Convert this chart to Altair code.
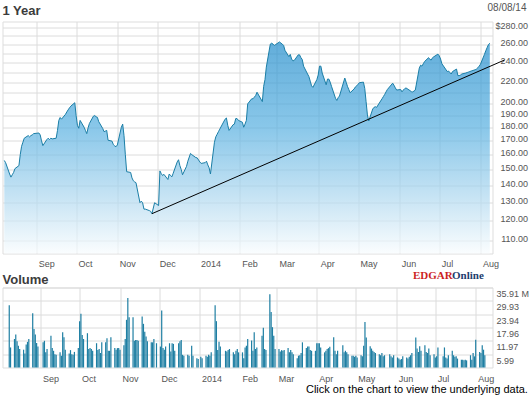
import altair as alt
import pandas as pd

# ---------------- data ----------------
HOLIDAYS = ["2013-09-02", "2013-11-28", "2013-12-25", "2014-01-01", "2014-01-20",
            "2014-02-17", "2014-04-18", "2014-05-26", "2014-07-04"]
TRADE_DATES = [d.strftime("%Y-%m-%d") for d in pd.bdate_range("2013-08-08", "2014-08-08")
               if d.strftime("%Y-%m-%d") not in HOLIDAYS]

PRICE_AUG13 = [156, 154.5, 147, 145, 146.5, 148, 150.5, 152.5, 160, 166, 169, 172, 174, 173, 174, 174.5, 175.5]
PRICE_SEP13 = [176, 174.5, 170, 166.5, 171, 172, 171, 172, 171.5, 172, 178, 186, 188.4, 187, 191, 193, 194.8, 196.5, 198, 201]
PRICE_OCT13 = [190, 182, 179.7, 186, 180.5, 178, 175.5, 180, 183.5, 189.5, 190, 189, 188.5, 185, 179.5, 177,
               177.5, 178, 170.5, 169.8, 167.2, 166.3, 165.7]
PRICE_NOV13 = [167, 180.5, 183, 174, 160, 148.5, 148, 144.5, 142.7, 142, 141.5, 129.6, 130.5, 129.5, 126, 126,
               125.2, 124.8, 123.5, 129.6]
PRICE_DEC13 = [128, 149, 147.3, 146, 146.8, 143.5, 147, 146, 145.2, 147.5, 155, 156.5, 152.5, 150, 146.5, 152,
               155.5, 160.9, 160, 158, 157.8]
PRICE_JAN14 = [155, 154, 154.5, 155.5, 153, 151, 147, 169, 173, 175, 177, 179, 187, 188, 182, 178, 182.5, 183,
               187.5, 187.5, 186]
PRICE_FEB14 = [184.5, 180.5, 183, 186, 200, 204.5, 204.5, 206, 207.5, 210.5, 202, 216, 222.5, 235, 260, 261, 260,
               258.5, 259.5]
PRICE_MAR14 = [262.5, 261, 260, 258.5, 253, 246, 248.5, 243.5, 241.5, 242, 248, 248, 245, 243, 236, 228, 225.5,
               221, 216.5, 215, 222.5]
PRICE_APR14 = [227, 236, 236, 229, 217.5, 223, 223, 220, 216, 205, 203, 205.5, 207, 224, 220, 216, 213, 210,
               213.5, 215.5, 216.5]
PRICE_MAY14 = [218, 219.5, 220, 214, 202, 190.5, 185.5, 195.5, 197, 197.5, 197, 199, 204.5, 206.5, 208.5, 210.8,
               213, 219, 217, 214.5, 212.5]
PRICE_JUN14 = [213, 210.8, 212.5, 213.8, 214.5, 212, 211, 210.8, 211.5, 212.5, 234, 237, 236, 238.5, 240.9, 245,
               243, 242.5, 245, 246, 248.8]
PRICE_JUL14 = [247, 243.5, 238.5, 230.5, 231, 229.5, 228, 230.5, 233, 226.4, 226.4, 227, 228, 229, 229.5, 230,
               230.5, 231, 232.3, 233, 234.3, 236]
PRICE_AUG14 = [238, 248.5, 252.5, 256, 259.5, 261]

VOL_AUG13 = [27.9, 9.0, 12.8, 14.8, 11.8, 9.8, 8.3, 8.0, 6.3, 10.3, 11.5, 12.8, 24.4, 17.3, 14.8, 11.0, 9.4]
VOL_SEP13 = [11.3, 12.0, 6.8, 8.3, 14.3, 8.7, 7.5, 6.0, 5.7, 6.8, 5.3, 15.8, 13.6, 8.0, 6.3, 7.8, 6.0, 5.7, 7.0, 8.7]
VOL_OCT13 = [20.8, 24.1, 14.6, 12.8, 15.4, 8.3, 8.7, 8.3, 7.5, 10.9, 7.8, 8.3, 6.5, 11.3, 11.3, 13.1, 7.5, 7.5,
             13.6, 8.7, 8.0, 8.7, 8.7]
VOL_NOV13 = [8.0, 10.0, 12.8, 21.4, 31.2, 22.6, 22.6, 12.0, 12.4, 12.4, 12.0, 22.9, 19.6, 16.0, 13.9, 11.8, 11.3,
             11.3, 12.8, 10.9]
VOL_DEC13 = [9.4, 25.6, 8.7, 8.0, 9.4, 10.9, 7.2, 10.9, 10.6, 7.5, 10.9, 11.8, 12.4, 5.7, 5.3, 5.7, 5.3, 9.8, 5.3,
             4.2, 3.8]
VOL_JAN14 = [4.8, 4.2, 5.3, 4.8, 5.7, 5.3, 6.8, 27.9, 20.8, 7.8, 11.6, 9.4, 7.5, 7.2, 7.8, 8.3, 6.8, 6.0, 7.5, 8.3, 6.8]
VOL_FEB14 = [6.8, 4.2, 9.0, 9.8, 12.8, 12.1, 7.5, 15.8, 8.3, 9.0, 14.3, 17.8, 8.3, 7.8, 32.9, 24.9, 18.1, 14.3, 8.3]
VOL_MAR14 = [8.3, 7.2, 7.8, 7.5, 7.8, 8.7, 6.8, 7.8, 6.8, 6.0, 4.2, 5.3, 5.5, 6.5, 11.3, 8.7, 9.4, 9.4, 7.8, 7.5, 7.5]
VOL_APR14 = [10.9, 10.9, 10.9, 9.0, 6.8, 7.5, 8.3, 8.7, 9.3, 13.6, 7.5, 6.0, 7.5, 10.0, 6.8, 7.5, 6.8, 6.0, 5.3,
             5.3, 4.8]
VOL_MAY14 = [5.3, 4.5, 5.5, 5.0, 9.8, 20.4, 13.5, 9.5, 8.5, 7.5, 7.0, 6.5, 6.0, 5.5, 6.5, 5.0, 5.5, 6.0, 5.0, 4.5, 5.5]
VOL_JUN14 = [4.5, 4.0, 3.5, 3.8, 5.0, 4.5, 4.0, 4.8, 5.5, 6.5, 13.5, 8.5, 7.0, 9.5, 7.5, 10.0, 7.0, 6.5, 8.5, 5.5, 6.0]
VOL_JUL14 = [4.5, 5.0, 9.0, 5.0, 9.0, 4.5, 4.0, 5.5, 7.5, 5.5, 4.8, 5.0, 4.0, 3.5, 3.5, 3.2, 3.5, 3.2, 5.5, 3.5,
             6.5, 5.0]
VOL_AUG14 = [12.5, 7.0, 6.5, 10.0, 8.0, 5.5]

PRICE = (PRICE_AUG13 + PRICE_SEP13 + PRICE_OCT13 + PRICE_NOV13 + PRICE_DEC13 + PRICE_JAN14 + PRICE_FEB14
         + PRICE_MAR14 + PRICE_APR14 + PRICE_MAY14 + PRICE_JUN14 + PRICE_JUL14 + PRICE_AUG14)
VOLUME = (VOL_AUG13 + VOL_SEP13 + VOL_OCT13 + VOL_NOV13 + VOL_DEC13 + VOL_JAN14 + VOL_FEB14
          + VOL_MAR14 + VOL_APR14 + VOL_MAY14 + VOL_JUN14 + VOL_JUL14 + VOL_AUG14)
assert len(TRADE_DATES) == len(PRICE) == len(VOLUME), (len(TRADE_DATES), len(PRICE), len(VOLUME))

MONTH_STARTS = ["2013-09-01", "2013-10-01", "2013-11-01", "2013-12-01", "2014-01-01", "2014-02-01",
                "2014-03-01", "2014-04-01", "2014-05-01", "2014-06-01", "2014-07-01", "2014-08-01"]
PRICE_TICKS = [110, 120, 130, 140, 150, 160, 170, 180, 190, 200, 210, 220, 230, 240, 250, 260, 270, 280]
PRICE_LABELED = [110, 120, 130, 140, 150, 160, 170, 180, 190, 200, 220, 240, 260, 280]
PRICE_DOMAIN = [103.7, 287.1]
VOLUME_TICKS = [5.99, 11.97, 17.96, 23.94, 29.93, 35.91]
TREND_DATES = ["2013-11-27", "2014-08-19"]
TREND_PRICES = [123.5, 242.4]

df = pd.DataFrame({"date": TRADE_DATES, "price": PRICE, "volume": VOLUME})
trend = pd.DataFrame({"date": TREND_DATES, "price": TREND_PRICES})


def dt(s, h=0, mi=0):
    y, m, d = map(int, s.split("-"))
    return alt.DateTime(year=y, month=m, date=d, hours=h, minutes=mi, utc=True)


# ---------------- styling ----------------
FONT = "Liberation Sans"
GRID = "#dcdcdc"
LABEL_COLOR = "#555555"
W = 490

x_scale = alt.Scale(type="utc", domain=[dt("2013-08-06", 15, 40), dt("2014-08-10", 1)])
price_scale = alt.Scale(type="log", domain=PRICE_DOMAIN, nice=False, zero=False)
vol_scale = alt.Scale(domain=[0, VOLUME_TICKS[-1]], nice=False, zero=True)


def x_axis(pad):
    return alt.Axis(
        values=[dt(s) for s in MONTH_STARTS],
        labelExpr="utcFormat(datum.value, '%m') == '01' ? utcFormat(datum.value, '%Y') : utcFormat(datum.value, '%b')",
        labelAlign="left", labelBaseline="top", labelPadding=pad, labelOffset=2,
        labelFont=FONT, labelFontSize=9, labelColor=LABEL_COLOR,
        labelFlush=False, labelOverlap=False,
        grid=True, gridColor=GRID, gridWidth=1,
        domain=False, ticks=False, tickSize=0, title=None,
    )


price_axis = alt.Axis(
    orient="right", values=PRICE_TICKS,
    labelExpr=(f"indexof({PRICE_LABELED}, datum.value) < 0 ? '' : "
               f"(datum.value == {max(PRICE_LABELED)} ? '$' : '') + format(datum.value, '.2f')"),
    labelAlign="right", labelBaseline="middle", labelPadding=35, labelOffset=-2,
    labelFont=FONT, labelFontSize=9, labelColor=LABEL_COLOR,
    labelOverlap=False, labelFlush=False,
    grid=True, gridColor=GRID, gridWidth=1,
    domain=False, ticks=False, tickSize=0, title=None,
)

vol_axis = alt.Axis(
    orient="right", values=VOLUME_TICKS,
    labelExpr=f"datum.value == {VOLUME_TICKS[-1]} ? format(datum.value, '.2f') + ' M' : format(datum.value, '.2f')",
    labelAlign="left", labelBaseline="top", labelPadding=3.5, labelOffset=2,
    labelFont=FONT, labelFontSize=9, labelColor=LABEL_COLOR,
    labelOverlap=False, labelFlush=False,
    grid=True, gridColor=GRID, gridWidth=1,
    domain=False, ticks=False, tickSize=0, title=None,
)

x_price = alt.X("date:T", scale=x_scale, axis=x_axis(6))
y_price = alt.Y("price:Q", scale=price_scale, axis=price_axis)


def note(text, x, y, size, color, weight="normal", align="left", font=FONT):
    return alt.Chart(pd.DataFrame({"t": [text]})).mark_text(
        align=align, baseline="alphabetic", fontSize=size, fontWeight=weight, color=color, font=font
    ).encode(x=alt.value(x), y=alt.value(y), text="t:N")


area = alt.Chart(df).mark_area(
    color=alt.Gradient(
        gradient="linear",
        stops=[
            alt.GradientStop(color="#1f8bcb", offset=0),
            alt.GradientStop(color="#56afe0", offset=0.4),
            alt.GradientStop(color="#b3daf0", offset=0.75),
            alt.GradientStop(color="#f8fcfe", offset=1),
        ],
        x1=0, x2=0, y1=0, y2=1,
    ),
    line=alt.OverlayMarkDef(color="#1b7ea6", strokeWidth=1),
).encode(x=x_price, y=y_price, y2=alt.datum(PRICE_DOMAIN[0]))

trendline = alt.Chart(trend).mark_line(color="#000000", strokeWidth=1).encode(x=x_price, y=y_price)

price_panel = alt.layer(
    area,
    trendline,
    note("1 Year", 0, -6.8, 13, "#3c3c3c", weight="bold"),
    note("08/08/14", 524, -10.5, 10, LABEL_COLOR, align="right"),
).properties(width=W, height=232)

bars = alt.Chart(df).mark_bar(size=1.2, color="#1f7fa3").encode(
    x=alt.X("date:T", scale=x_scale, axis=x_axis(7)),
    y=alt.Y("volume:Q", scale=vol_scale, axis=vol_axis),
)

volume_panel = alt.layer(
    bars,
    note("Volume", 0, -3.5, 13, "#3c3c3c", weight="bold"),
    note("EDGAR", 410.4, -8.5, 11, "#cc1f1f", weight="bold", font="Liberation Serif"),
    note("Online", 449.5, -8.5, 11, "#1d3d6e", weight="bold", font="Liberation Serif"),
    note("Click on the chart to view the underlying data.", 525.4, 105, 11, "#000000", align="right"),
).properties(width=W, height=80)

chart = alt.vconcat(price_panel, volume_panel, spacing=34, bounds="flush").properties(
    padding={"left": 1.5, "top": 2.5, "right": 0, "bottom": 0},
    background="white",
).configure_view(stroke="#c8c8c8", strokeWidth=1).configure(font=FONT)

chart.save("out.html", embed_options={"renderer": "svg", "actions": False})
